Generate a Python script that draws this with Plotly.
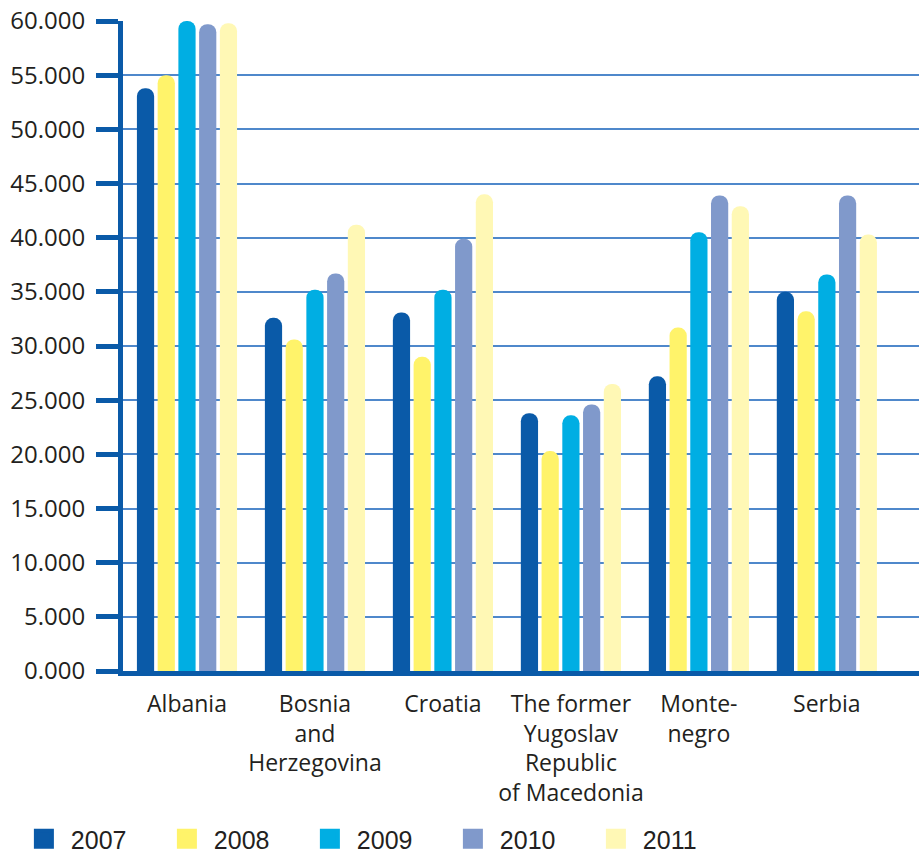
import plotly.graph_objects as go

# Countries on the category axis (line breaks as printed under the bars)
countries = [
    "Albania",
    "Bosnia<br>and<br>Herzegovina",
    "Croatia",
    "The former<br>Yugoslav<br>Republic<br>of Macedonia",
    "Monte-<br>negro",
    "Serbia",
]

years = ["2007", "2008", "2009", "2010", "2011"]

# Values per year, one entry per country (in thousands)
values_2007 = [53.8, 32.6, 33.1, 23.8, 27.2, 35.0]
values_2008 = [55.0, 30.6, 29.0, 20.3, 31.7, 33.2]
values_2009 = [60.0, 35.2, 35.2, 23.6, 40.5, 36.6]
values_2010 = [59.7, 36.7, 39.9, 24.6, 43.9, 43.9]
values_2011 = [59.8, 41.2, 44.0, 26.5, 42.9, 40.3]

series = [values_2007, values_2008, values_2009, values_2010, values_2011]
colors = ["#0a5aa8", "#fff36a", "#00aee3", "#8099cb", "#fff8b5"]

y_ticks = [0, 5, 10, 15, 20, 25, 30, 35, 40, 45, 50, 55, 60]

axis_blue = "#0a5aa8"
grid_blue = "#4f88cb"
text_color = "#231f20"

fig = go.Figure()

for year, vals, col in zip(years, series, colors):
    fig.add_trace(go.Bar(
        x=countries,
        y=vals,
        name=year,
        legendgroup=year,
        showlegend=False,
        marker=dict(color=col, cornerradius="50%", line=dict(width=0)),
        cliponaxis=False,
        hoverinfo="x+y+name",
    ))
    # Legend entry with a larger swatch than the default bar icon
    fig.add_trace(go.Scatter(
        x=[None],
        y=[None],
        name=" " + year,
        legendgroup=year,
        mode="markers",
        marker=dict(symbol="square", size=16, color=col,
                    line=dict(color=col, width=4)),
        showlegend=True,
    ))

fig.update_layout(
    width=919,
    height=862,
    paper_bgcolor="white",
    plot_bgcolor="white",
    margin=dict(l=123, r=0, t=21, b=191, autoexpand=False),
    barmode="group",
    bargap=0.19,
    bargroupgap=0.17,
    font=dict(family="Open Sans, sans-serif", size=23, color=text_color),
    showlegend=True,
    legend=dict(
        orientation="h",
        xref="container",
        yref="container",
        x=0.026,
        y=-0.022,
        xanchor="left",
        yanchor="bottom",
        entrywidth=98,
        entrywidthmode="pixels",
        itemsizing="trace",
        font=dict(family="Liberation Sans, Arial, sans-serif", size=25, color=text_color),
        bgcolor="rgba(0,0,0,0)",
        traceorder="normal",
    ),
)

fig.update_xaxes(
    type="category",
    categoryorder="array",
    categoryarray=countries,
    range=[-0.5, 5.72],
    showline=True,
    linecolor=axis_blue,
    linewidth=5,
    ticks="",
    showgrid=False,
    ticklabelstandoff=8,
    tickfont=dict(family="Open Sans, sans-serif", size=23, color=text_color),
)

fig.update_yaxes(
    range=[0, 60],
    tickvals=y_ticks,
    tickformat=".3f",
    showline=True,
    linecolor=axis_blue,
    linewidth=5,
    ticks="outside",
    ticklen=22,
    tickwidth=5,
    tickcolor=axis_blue,
    showgrid=True,
    gridcolor=grid_blue,
    gridwidth=1.5,
    zeroline=False,
    ticklabelstandoff=6,
    tickfont=dict(family="Open Sans, sans-serif", size=24, color=text_color),
)

fig.write_html("out.html")
